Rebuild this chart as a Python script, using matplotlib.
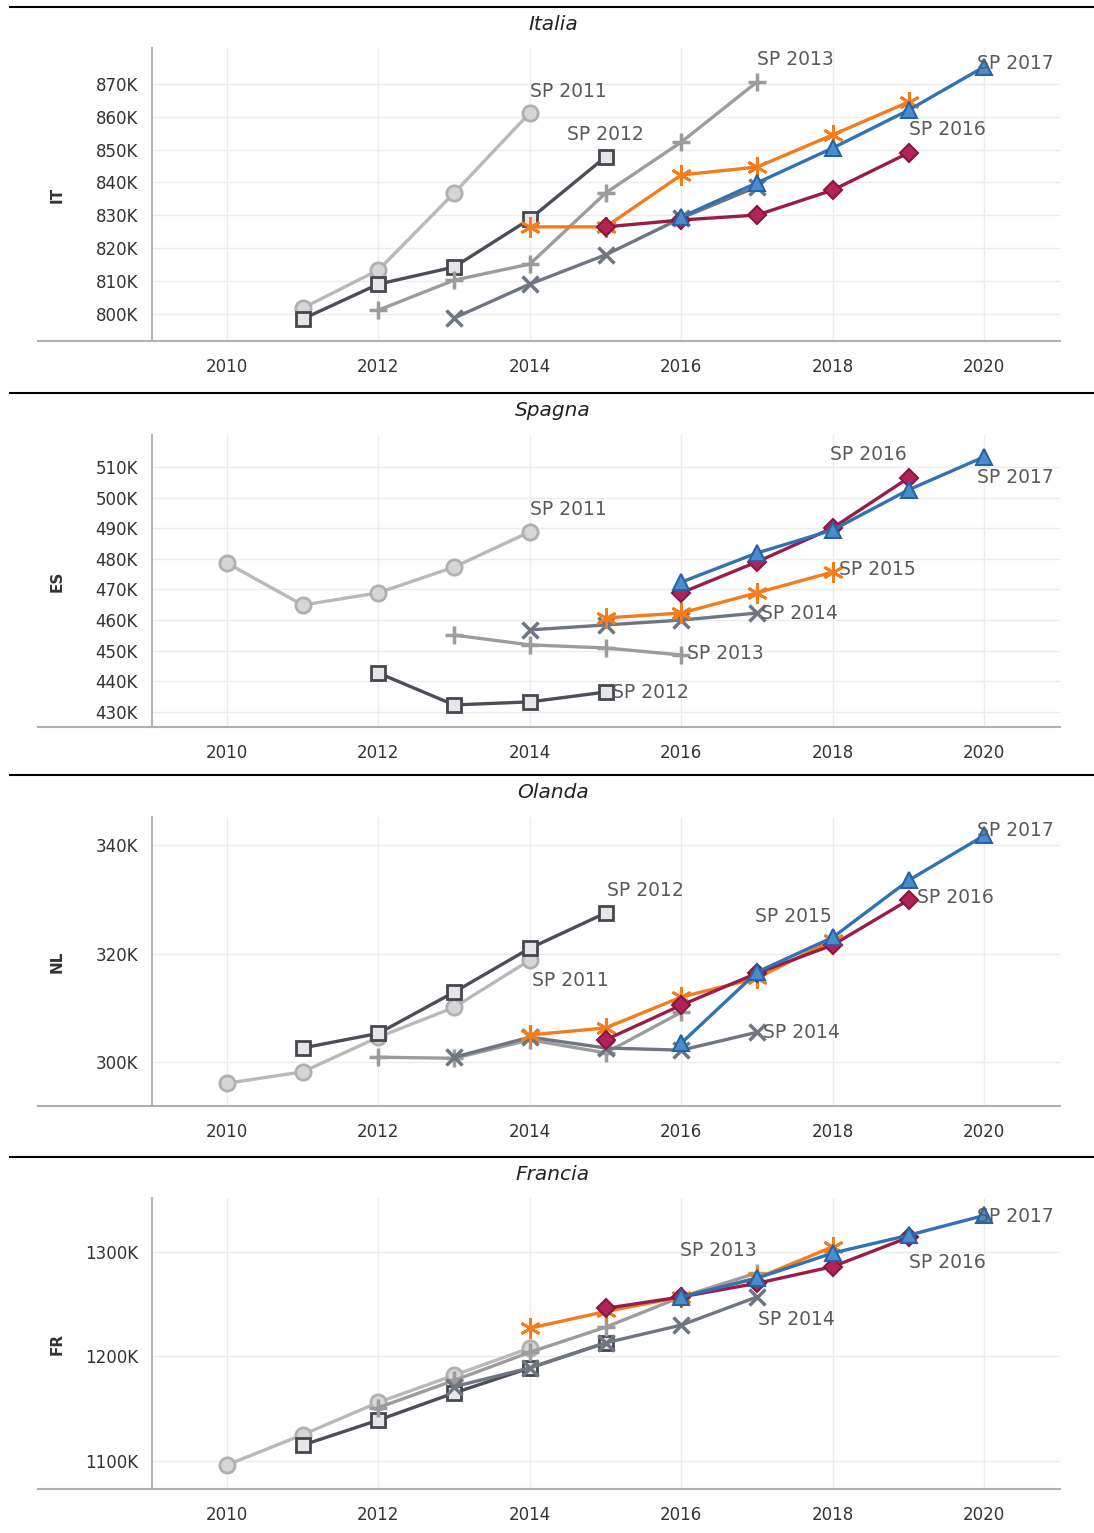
import numpy as np
import matplotlib
matplotlib.use('Agg')
from matplotlib import pyplot as plt
from matplotlib.lines import Line2D

W, H = 1094, 1533

series = ['SP 2011', 'SP 2012', 'SP 2013', 'SP 2014', 'SP 2015', 'SP 2016', 'SP 2017']

# values in thousands, each series starts at its start year
it_start = [2011, 2011, 2012, 2013, 2014, 2015, 2016]
it_values = [
    [801.8, 813.4, 836.8, 861.2],
    [798.5, 809.1, 814.3, 828.9, 847.8],
    [801.2, 810.3, 815.2, 836.8, 852.3, 870.6],
    [798.8, 809.1, 818.0, 829.2, 838.7],
    [826.5, 826.5, 842.3, 844.7, 854.5, 864.5],
    [826.5, 828.6, 830.1, 837.7, 849.0],
    [829.5, 839.9, 850.5, 862.0, 875.2],
]

es_start = [2010, 2012, 2013, 2014, 2015, 2016, 2016]
es_values = [
    [478.6, 464.9, 468.9, 477.3, 488.8],
    [442.7, 432.3, 433.3, 436.5],
    [455.1, 451.9, 450.9, 448.6],
    [456.8, 458.4, 460.0, 462.3],
    [460.7, 462.3, 468.9, 475.7],
    [468.9, 479.0, 490.1, 506.4],
    [472.4, 481.9, 489.4, 502.5, 513.3],
]

nl_start = [2010, 2011, 2012, 2013, 2014, 2015, 2016]
nl_values = [
    [296.1, 298.2, 304.6, 310.1, 318.8],
    [302.6, 305.3, 312.9, 321.0, 327.5],
    [300.9, 300.7, 304.1, 301.7, 309.2],
    [300.9, 304.6, 302.6, 302.2, 305.5],
    [305.0, 306.3, 312.0, 315.5, 322.5],
    [304.1, 310.5, 316.4, 321.6, 329.9],
    [303.5, 316.6, 323.0, 333.5, 341.8],
]

fr_start = [2010, 2011, 2012, 2013, 2014, 2015, 2016]
fr_values = [
    [1096, 1125, 1156, 1182, 1208],
    [1115, 1139, 1165, 1189, 1213],
    [1151, 1177, 1204, 1228, 1257, 1280],
    [1171, 1189, 1213, 1230, 1257],
    [1227, 1243, 1257, 1275, 1305],
    [1246, 1257, 1270, 1286, 1314],
    [1257, 1275, 1299, 1316, 1335],
]

titles = ['Italia', 'Spagna', 'Olanda', 'Francia']
codes = ['IT', 'ES', 'NL', 'FR']
yticks = [list(range(800, 871, 10)), list(range(430, 511, 10)), [300, 320, 340], [1100, 1200, 1300]]
ylims = [(791.8, 880.9), (425.1, 520.4), (291.9, 345.2), (1073, 1351.7)]

# which labels are shown: (series index, dx px, dy px, ha)
labels = [
    [(0, 0, 21, 'left'), (1, 0, 22, 'center'), (2, 0, 22, 'left'), (5, 0, 23, 'left'), (6, -7, 3, 'left')],
    [(0, 0, 22, 'left'), (1, 6, 0, 'left'), (2, 6, 1, 'left'), (3, 4, 0, 'left'), (4, 6, 2, 'left'),
     (5, -2, 23, 'right'), (6, -7, -21, 'left')],
    [(0, 2, -20, 'left'), (1, 1, 22, 'left'), (3, 6, 0, 'left'), (4, -1, 24, 'right'), (5, 8, 2, 'left'),
     (6, -7, 5, 'left')],
    [(2, 0, 22, 'right'), (3, 1, -23, 'left'), (5, 0, -25, 'left'), (6, -7, -1, 'left')],
]

styles = [
    dict(color='#b9b9b9', marker='o', ms=11, mfc='#d6d6d6', mec='#b0b0b0', mew=2),
    dict(color='#4b4e56', marker='s', ms=10, mfc='#e6e6e6', mec='#44474f', mew=2),
    dict(color='#9c9c9c', marker='+', ms=13, mew=2.5),
    dict(color='#6f7682', marker='x', ms=11, mew=2.5),
    dict(color='#f57c1a', marker=(6, 2, 0), ms=15, mew=2),
    dict(color='#9b1b4b', marker='D', ms=9, mfc='#b0245a', mec='#8a1542', mew=1.5),
    dict(color='#2f73b5', marker='^', ms=11, mfc='#4a8ccc', mec='#2563a3', mew=1.5),
]

starts = [it_start, es_start, nl_start, fr_start]
values = [it_values, es_values, nl_values, fr_values]

panel_top = [48, 435, 817, 1198]
panel_bot = [341, 727, 1106, 1489]
sep_y = [7, 393, 775, 1157]
title_y = [25, 411, 793, 1175]
left_px, right_px = 152, 1060

fig = plt.figure(figsize=(W / 100, H / 100), dpi=100)

for p in range(4):
    ax = fig.add_axes([left_px / W, 1 - panel_bot[p] / H,
                       (right_px - left_px) / W, (panel_bot[p] - panel_top[p]) / H])
    for i, name in enumerate(series):
        vals = values[p][i]
        yrs = starts[p][i] + np.arange(len(vals))
        ax.plot(yrs, vals, lw=2.4, zorder=3 + i, **styles[i])
    for i, dx, dy, ha in labels[p]:
        vals = values[p][i]
        x = starts[p][i] + len(vals) - 1
        ax.annotate(series[i], (x, vals[-1]), xytext=(dx, dy), textcoords='offset pixels',
                    ha=ha, va='center', fontsize=13.5, color='#5a5a5a', zorder=20)

    ax.set_xlim(2009.01, 2021.0)
    ax.set_ylim(*ylims[p])
    ax.set_xticks(range(2010, 2021, 2))
    ax.set_yticks(yticks[p])
    ax.set_yticklabels(['%dK' % v for v in yticks[p]])
    ax.tick_params(length=0, labelsize=12, labelcolor='#333333')
    ax.tick_params(axis='x', pad=12)
    ax.tick_params(axis='y', pad=10)
    ax.grid(True, color='#ececec', lw=1)
    ax.set_axisbelow(True)
    for s in ['top', 'right', 'bottom']:
        ax.spines[s].set_visible(False)
    ax.spines['left'].set_color('#b5b5b5')
    ax.spines['left'].set_linewidth(1.5)

    # long bottom axis line and separator
    yb = 1 - panel_bot[p] / H
    fig.add_artist(Line2D([38 / W, right_px / W], [yb, yb], color='#b0b0b0', lw=1.5))
    ys = 1 - sep_y[p] / H
    fig.add_artist(Line2D([10 / W, 1.0], [ys, ys], color='black', lw=1.5))
    fig.text(553 / W, 1 - title_y[p] / H, titles[p], ha='center', va='center',
             fontsize=14.5, style='italic', color='#222222')
    fig.text(57 / W, 1 - (panel_top[p] + panel_bot[p]) / 2 / H, codes[p], rotation=90,
             ha='center', va='center', fontsize=11, fontweight='bold', color='#333333')

fig.savefig('out.png', dpi=100)
